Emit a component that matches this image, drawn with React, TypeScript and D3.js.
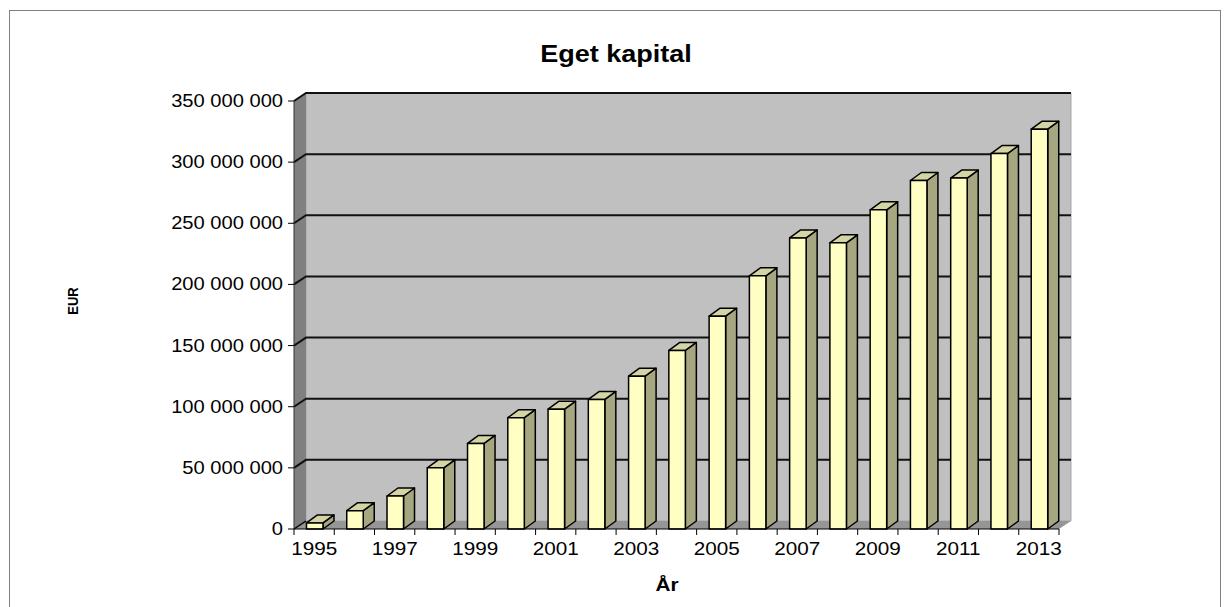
import React from "react";
import * as d3 from "d3";

const years = [1995,1996,1997,1998,1999,2000,2001,2002,2003,2004,2005,2006,2007,2008,2009,2010,2011,2012,2013];
const values = [5e6,15e6,27e6,50e6,70e6,91e6,98e6,106e6,125e6,146e6,174e6,207e6,238e6,234e6,261e6,285e6,287e6,307e6,327e6];
const yTicks = [0,50e6,100e6,150e6,200e6,250e6,300e6,350e6];
const yTickLabels = ["0","50 000 000","100 000 000","150 000 000","200 000 000","250 000 000","300 000 000","350 000 000"];
const xLabelYears = [1995,1997,1999,2001,2003,2005,2007,2009,2011,2013];
const title = "Eget kapital";
const xTitle = "År";
const yTitle = "EUR";

const W = 1231, H = 607;
const X0 = 294, X1 = 1059, Y0 = 529, YT = 101;
const DX = 12, DY = -8;
const SX = 1.15;
const FONT = "Arial, 'Liberation Sans', sans-serif";

export default function App() {
  const y = d3.scaleLinear().domain([0, 350e6]).range([Y0, YT]);
  const x = d3.scaleBand<number>().domain(years).range([X0, X1]).paddingInner(0).paddingOuter(0);
  const bw = x.bandwidth();
  const barOff = bw * 0.31;
  const barW = bw * 0.41;
  const bdx = 11, bdy = -8;
  const pts = (a: number[][]) => a.map(p => p.join(",")).join(" ");

  return (
    <svg width={W} height={H} style={{ position: "absolute", left: 0, top: 0, background: "#fff" }}>
      <rect x={9.5} y={10.5} width={1211} height={600} fill="#fff" stroke="#808080" strokeWidth={1} />
      <text transform={`translate(616,62) scale(${SX},1)`} textAnchor="middle" fontFamily={FONT} fontWeight="bold" fontSize={23.5}>{title}</text>
      {/* back wall */}
      <polygon points={pts([[X0+DX, YT+DY],[X1+DX, YT+DY],[X1+DX, Y0+DY],[X0+DX, Y0+DY]])} fill="#c0c0c0" stroke="#a8a8a8" strokeWidth={1} />
      {/* left wall */}
      <polygon points={pts([[X0, YT],[X0+DX, YT+DY],[X0+DX, Y0+DY],[X0, Y0]])} fill="#808080" />
      {/* floor */}
      <polygon points={pts([[X0, Y0],[X1, Y0],[X1+DX, Y0+DY],[X0+DX, Y0+DY]])} fill="#969696" />
      {/* gridlines */}
      {yTicks.map((t, i) => {
        const yy = y(t);
        return i === 0 ? (
          <line key={i} x1={X0} y1={yy} x2={X0+DX} y2={yy+DY} stroke="#000" strokeWidth={1.5} />
        ) : (
          <polyline key={i} points={pts([[X0, yy],[X0+DX, yy+DY],[X1+DX, yy+DY]])} fill="none" stroke="#111" strokeWidth={2} />
        );
      })}
      {/* bars */}
      {years.map((yr, i) => {
        const xl = (x(yr) as number) + barOff;
        const xr = xl + barW;
        const yt = y(values[i]);
        return (
          <g key={yr} stroke="#000" strokeWidth={1.5} strokeLinejoin="round">
            <polygon points={pts([[xr, Y0],[xr+bdx, Y0+bdy],[xr+bdx, yt+bdy],[xr, yt]])} fill="#a6a680" />
            <polygon points={pts([[xl, yt],[xl+bdx, yt+bdy],[xr+bdx, yt+bdy],[xr, yt]])} fill="#d4d4a4" />
            <rect x={xl} y={yt} width={barW} height={Y0 - yt} fill="#ffffc4" />
          </g>
        );
      })}
      {/* y axis */}
      <line x1={X0} y1={YT} x2={X0} y2={Y0} stroke="#333" strokeWidth={1} />
      {yTicks.map((t, i) => (
        <g key={i}>
          <line x1={X0-6} y1={y(t)} x2={X0} y2={y(t)} stroke="#000" />
          <text transform={`translate(283,${y(t)+6}) scale(${SX},1)`} textAnchor="end" fontFamily={FONT} fontSize={17.5}>{yTickLabels[i]}</text>
        </g>
      ))}
      {/* x axis */}
      <line x1={X0} y1={Y0} x2={X1} y2={Y0} stroke="#000" strokeWidth={1} />
      {[...years.map(yr => x(yr) as number), X1].map((xx, i) => (
        <line key={i} x1={xx} y1={Y0} x2={xx} y2={Y0+6} stroke="#000" />
      ))}
      {xLabelYears.map(yr => (
        <text key={yr} transform={`translate(${(x(yr) as number) + bw/2},555) scale(${SX},1)`} textAnchor="middle" fontFamily={FONT} fontSize={18}>{yr}</text>
      ))}
      <text transform={`translate(667,591) scale(${SX},1)`} textAnchor="middle" fontFamily={FONT} fontWeight="bold" fontSize={18}>{xTitle}</text>
      <text transform={`translate(78,301) rotate(-90) scale(1,${SX})`} textAnchor="middle" fontFamily={FONT} fontWeight="bold" fontSize={13}>{yTitle}</text>
    </svg>
  );
}
